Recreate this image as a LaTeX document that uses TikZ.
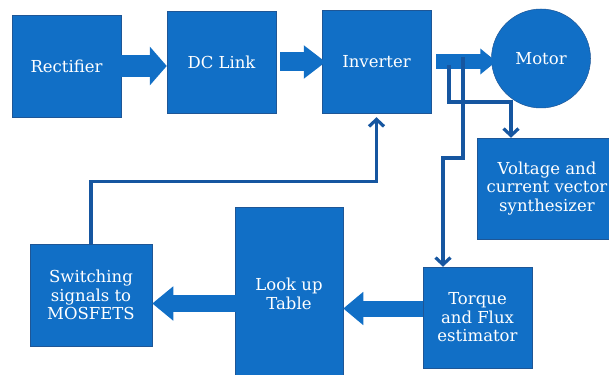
\documentclass[tikz,border=0pt]{standalone}
\usepackage{fontspec}
\setmainfont{DejaVu Serif}
\usepackage{tikz}
\usetikzlibrary{arrows.meta}
\definecolor{boxblue}{RGB}{17,111,198}
\definecolor{edgeblue}{RGB}{30,86,150}
\definecolor{lineblue}{RGB}{22,86,160}
\tikzstyle{block} = [rectangle, text centered, align = center, text = white, minimum width = 109pt, minimum height = 102pt, draw = edgeblue, fill = boxblue, line width = 0.5pt, font = \fontsize{16.5}{18.5}\selectfont]
\tikzstyle{motor} = [circle, text centered, text = white, minimum size = 99pt, draw = edgeblue, fill = boxblue, line width = 0.5pt, font = \fontsize{16.5}{18.5}\selectfont]
\tikzstyle{fat} = [color = boxblue]
\tikzstyle{link} = [color = lineblue, line width = 3.2pt]

\begin{document}
\begin{tikzpicture}[x = 1pt, y = -1pt, node distance = 155pt]
\useasboundingbox (0,0) rectangle (609,374);
\node (rect) [block] at (66.5,66) {Rectifier};
\node (dc) [block, right of = rect, yshift = 4pt] {DC Link};
\node (inv) [block, right of = dc, yshift = 0.5pt, minimum height = 103pt] {Inverter};
\node (motor) [motor, right of = inv, xshift = 9.5pt, yshift = 3pt] {Motor};
\node (volt) [block, node distance = 130pt, below of = motor, xshift = 6pt, minimum width = 140pt, minimum height = 101pt] {Voltage and\\current vector\\synthesizer};
\node (torque) [block, node distance = 129pt, below of = volt, xshift = -69.5pt, minimum height = 101pt] {Torque\\and Flux\\estimator};
\node (lookup) [block, node distance = 188.5pt, left of = torque, yshift = 23.5pt, minimum width = 108pt, minimum height = 174pt] {Look up\\Table};
\node (sw) [block, node distance = 198pt, left of = lookup, yshift = -1pt, minimum width = 122pt] {Switching\\signals to\\MOSFETS};

% block arrows
\draw [fat, line width = 22pt, -{Triangle[width = 38pt, length = 17pt]}] (rect.east) -- (rect.east -| dc.west);
\draw [fat, line width = 19pt, -{Triangle[width = 32pt, length = 22pt]}] ([xshift = 4pt]dc.east) -- ([xshift = 4pt]dc.east -| inv.west);
\draw [fat, line width = 15pt, -{Triangle[width = 25pt, length = 16pt]}] ([xshift = 5pt]inv.east) -- ([xshift = 5pt]inv.east -| motor.west);
\draw [fat, line width = 16pt, -{Triangle[width = 32pt, length = 20pt]}] ([yshift = 9pt]torque.west) -- ([yshift = 9pt]torque.west -| lookup.east);
\draw [fat, line width = 17pt, -{Triangle[width = 33pt, length = 21pt]}] ([xshift = 7pt, yshift = -9.5pt]lookup.west) -- ([yshift = -9.5pt]lookup.west -| sw.east);

% feedback lines
\coordinate (tapV) at (449,65);
\coordinate (tapT) at (463,57);
\draw [link, -{Straight Barb[length = 7pt, width = 15pt]}] (tapV) -- ++(0,37) -| ([xshift = -36pt]volt.north);
\draw [link, -{Straight Barb[length = 7pt, width = 15pt]}] (tapT) -- ++(0,101) -| ([xshift = -34.5pt]torque.north);
\draw [link, -{Straight Barb[length = 7pt, width = 15pt]}, shorten > = 4pt] (sw.north) -- ++(0,-62) -| (inv.south);
\end{tikzpicture}
\end{document}
